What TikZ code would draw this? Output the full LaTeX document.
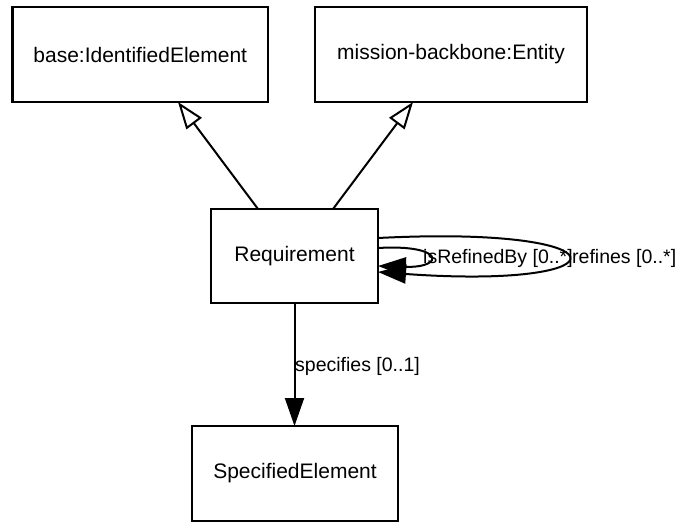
\documentclass[tikz,border=0pt]{standalone}
\usepackage{fontspec}
\setmainfont{Liberation Sans}
\usetikzlibrary{arrows.meta,calc}
\begin{document}
\begin{tikzpicture}[x=1pt,y=-1pt,
  cls/.style={draw,line width=2.2pt,inner sep=0pt,outer sep=0pt,rectangle,
    font=\fontsize{21}{25}\selectfont},
  gen/.style={line width=2pt,-{Triangle[open,length=27pt,width=19pt,fill=white]}},
  assoc/.style={line width=2pt,-{Triangle[length=28pt,width=19pt]}},
  lbl/.style={font=\fontsize{19.5}{23}\selectfont,inner sep=0pt,anchor=west}]
\useasboundingbox (0,0) rectangle (679,523);
\node[cls,minimum width=255.5pt,minimum height=95pt] (base) at (140.25,54.5) {base:IdentifiedElement};
\node[cls,minimum width=272pt,minimum height=95pt] (mb) at (451,54.5) {mission-backbone:Entity};
\node[cls,minimum width=167pt,minimum height=94pt] (R) at (294.5,256) {Requirement};
\node[cls,minimum width=206pt,minimum height=95pt] (S) at (295,473.5) {SpecifiedElement};
\draw[gen] ([xshift=-36.5pt]R.north) -- ([xshift=37.75pt]base.south);
\draw[gen] ([xshift=38.5pt]R.north) -- ([xshift=-38pt]mb.south);
\draw[assoc] (R.south) -- (R.south |- S.north);
\node[lbl] (ls) at (295,366) {specifies [0..1]};
\draw[assoc] ($(R.east)+(0,-8)$) .. controls (445,244) and (445,268) .. ($(R.east)+(0,10)$);
\draw[assoc] ($(R.east)+(0,-18)$) .. controls (630,225) and (630,290) .. ($(R.east)+(0,16)$);
\node[lbl] (l1) at (423,258) {isRefinedBy [0..*]};
\node[lbl] (l2) at (572,258) {refines [0..*]};
\end{tikzpicture}
\end{document}
